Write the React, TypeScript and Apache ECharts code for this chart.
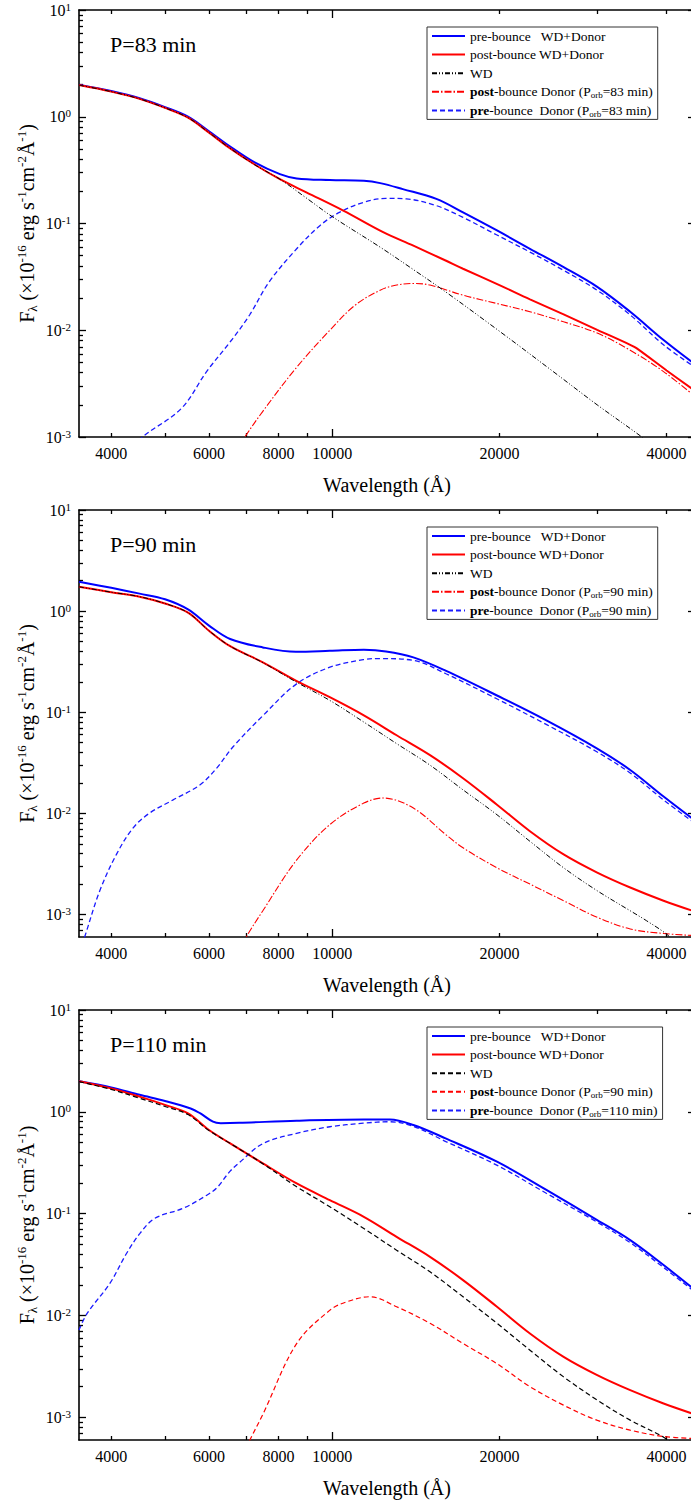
import React, { useEffect, useRef } from 'react';
import * as echarts from 'echarts';

const FONT = '"Liberation Serif", "Times New Roman", Times, serif';

// ---- tick positions / labels ----
const xMinorTicks = [4000, 5000, 6000, 7000, 8000, 9000, 20000, 30000, 40000];
const xMajorTicks = [10000];
const xTickLabels = [4000, 6000, 8000, 10000, 20000, 40000];
const yMajorTicks = [0.001, 0.01, 0.1, 1, 10];
const yMinorTicks = [
  0.0007, 0.0008, 0.0009,
  0.002, 0.003, 0.004, 0.005, 0.006, 0.007, 0.008, 0.009,
  0.02, 0.03, 0.04, 0.05, 0.06, 0.07, 0.08, 0.09,
  0.2, 0.3, 0.4, 0.5, 0.6, 0.7, 0.8, 0.9,
  2, 3, 4, 5, 6, 7, 8, 9,
];

const panelTitles = ['P=83 min', 'P=90 min', 'P=110 min'];
const preDonorPeriods = ['83', '90', '110'];
const postDonorPeriods = ['83', '90', '90'];

// ---- Panel 1 (P = 83 min) : [wavelength Å, F_lambda] ----
const p1PreTotal = [[3500,2.0],[4000,1.74],[4500,1.49],[5000,1.23],[5500,1.0],[6000,0.73],[6500,0.54],[7250,0.373],[8050,0.29],[8630,0.264],[9900,0.255],[11400,0.251],[12200,0.239],[13400,0.21],[15400,0.17],[17200,0.127],[19800,0.086],[22700,0.058],[26100,0.039],[30000,0.0255],[34400,0.0149],[39500,0.0081],[45000,0.0048]];
const p1PostTotal = [[3500,1.98],[4000,1.72],[4500,1.47],[5000,1.21],[5500,0.98],[6000,0.71],[6500,0.52],[7250,0.357],[8050,0.26],[9000,0.195],[10470,0.132],[12350,0.083],[14000,0.062],[16000,0.045],[17200,0.0377],[20000,0.0265],[22700,0.0195],[26100,0.0141],[30000,0.0101],[34400,0.0073],[35300,0.0068],[40000,0.0042],[45000,0.0027]];
const p1Wd = [[3500,1.98],[4000,1.72],[4500,1.47],[5000,1.21],[5500,0.98],[6000,0.71],[6500,0.52],[7250,0.355],[8050,0.26],[9000,0.172],[10000,0.116],[12200,0.060],[14000,0.037],[16000,0.0229],[20000,0.0098],[25000,0.0041],[30000,0.0020],[36100,0.001],[38000,0.0008]];
const p1PostDonor = [[6800,0.0008],[6963,0.001],[7500,0.00174],[8600,0.0044],[9900,0.0100],[11000,0.0172],[12200,0.0237],[13000,0.0264],[14000,0.0274],[15000,0.0265],[17200,0.0213],[19800,0.0178],[22700,0.0149],[26100,0.012],[30000,0.0094],[34400,0.0065],[39500,0.0041],[45000,0.0024]];
const p1PreDonor = [[4400,0.0008],[4553,0.001],[5350,0.00185],[5940,0.0041],[6590,0.0081],[7100,0.0139],[7700,0.0284],[8630,0.058],[9500,0.0955],[10300,0.127],[11400,0.158],[12500,0.172],[13600,0.170],[15400,0.147],[17200,0.114],[19800,0.078],[22700,0.054],[26100,0.0364],[30000,0.0237],[34400,0.0139],[39500,0.0073],[45000,0.0045]];

// ---- Panel 2 (P = 90 min) ----
const p2PreTotal = [[3500,1.95],[4000,1.70],[4500,1.49],[5000,1.31],[5500,1.04],[6000,0.72],[6550,0.53],[7500,0.438],[8600,0.397],[9900,0.405],[11400,0.415],[12500,0.40],[14000,0.349],[16000,0.258],[19800,0.1466],[24300,0.0832],[30000,0.0438],[34400,0.0269],[39500,0.0147],[45000,0.0085]];
const p2PostTotal = [[3500,1.74],[4000,1.54],[4500,1.39],[5000,1.19],[5500,0.966],[6000,0.64],[6550,0.45],[7500,0.312],[8600,0.206],[9900,0.141],[11400,0.0933],[13060,0.0593],[15000,0.0377],[17200,0.0223],[19800,0.0122],[22700,0.00667],[26100,0.00393],[30000,0.0026],[34400,0.00185],[39500,0.00137],[45000,0.00107]];
const p2Wd = [[3500,1.74],[4000,1.54],[4500,1.39],[5000,1.19],[5500,0.966],[6000,0.64],[6550,0.45],[7500,0.31],[8600,0.2],[9900,0.131],[11400,0.080],[13060,0.049],[15000,0.030],[17200,0.0171],[19800,0.0097],[22700,0.0053],[26100,0.0029],[30000,0.00172],[34400,0.00109],[36800,0.00087],[40000,0.00064],[41500,0.00052]];
const p2PostDonor = [[6900,0.0005],[7000,0.0006],[7500,0.00109],[8600,0.00338],[9900,0.00775],[11400,0.01265],[12350,0.0142],[14000,0.0113],[16000,0.0062],[17200,0.00457],[19800,0.0029],[22700,0.0020],[26100,0.00137],[30000,0.00094],[34400,0.00072],[39500,0.00065],[45000,0.00062]];
const p2PreDonor = [[3540,0.0005],[3583,0.0006],[3815,0.00172],[4088,0.00394],[4381,0.0072],[4693,0.0101],[5170,0.0136],[5776,0.0191],[6189,0.0279],[6630,0.0456],[7512,0.0933],[8627,0.191],[9905,0.279],[11375,0.331],[12190,0.34],[13985,0.326],[16060,0.239],[19780,0.136],[24330,0.0755],[29950,0.0407],[34390,0.0251],[39490,0.0136],[45000,0.0080]];

// ---- Panel 3 (P = 110 min) ----
const p3PreTotal = [[3500,2.0],[4000,1.74],[4500,1.47],[5000,1.28],[5560,1.08],[5780,0.97],[6100,0.80],[6300,0.775],[6800,0.78],[8630,0.818],[11400,0.84],[12700,0.84],[14000,0.742],[16000,0.549],[19800,0.324],[24300,0.171],[30000,0.0865],[34400,0.055],[39500,0.0313],[45000,0.0178]];
const p3PostTotal = [[3500,2.0],[4000,1.70],[4500,1.41],[5000,1.17],[5500,0.966],[6000,0.663],[6550,0.49],[7500,0.312],[8630,0.198],[9900,0.136],[11400,0.0933],[13060,0.0593],[15000,0.0377],[17200,0.0223],[19800,0.0122],[22700,0.00667],[26100,0.00393],[30000,0.0026],[34400,0.00185],[39500,0.00137],[45000,0.00107]];
const p3Wd = [[3500,1.98],[4000,1.66],[4500,1.36],[5000,1.13],[5500,0.94],[6000,0.655],[6550,0.49],[7500,0.31],[8630,0.184],[9900,0.117],[11400,0.0716],[13060,0.0438],[15000,0.0269],[17200,0.0153],[19800,0.0084],[22700,0.00457],[26100,0.0025],[30000,0.00148],[34400,0.00094],[39500,0.00064],[41500,0.00052]];
const p3PostDonor = [[7000,0.0005],[7107,0.0006],[7512,0.00109],[8627,0.0053],[9905,0.0113],[10600,0.0136],[11690,0.0153],[13060,0.0122],[15000,0.0084],[17220,0.0053],[19780,0.00338],[22710,0.0020],[26080,0.00132],[29950,0.00094],[34390,0.00075],[39490,0.00065],[45000,0.00062]];
const p3PreDonor = [[3500,0.0072],[3620,0.0105],[3978,0.0207],[4262,0.0407],[4506,0.064],[4790,0.090],[5390,0.113],[5945,0.152],[6200,0.18],[6543,0.26],[6817,0.32],[7512,0.49],[8627,0.615],[9905,0.714],[11375,0.774],[12700,0.80],[14000,0.72],[16060,0.508],[19780,0.30],[24330,0.158],[29950,0.083],[34390,0.052],[39490,0.0297],[45000,0.0170]];

const DASH_DOT_DOT = [5, 2, 1, 2, 1, 2];
const DASH_DOT = [7, 2, 1.5, 2];
const DASH = [5, 3];

const panels = [
  { title: panelTitles[0], yMin: 0.001, gridHeight: 429, pre: preDonorPeriods[0], post: postDonorPeriods[0],
    wdDash: DASH_DOT_DOT, postDash: DASH_DOT, wdWidth: 1, postWidth: 1.1,
    preTotal: p1PreTotal, postTotal: p1PostTotal, wd: p1Wd, postDonor: p1PostDonor, preDonor: p1PreDonor },
  { title: panelTitles[1], yMin: 0.0006, gridHeight: 430, pre: preDonorPeriods[1], post: postDonorPeriods[1],
    wdDash: DASH_DOT_DOT, postDash: DASH_DOT, wdWidth: 1, postWidth: 1.1,
    preTotal: p2PreTotal, postTotal: p2PostTotal, wd: p2Wd, postDonor: p2PostDonor, preDonor: p2PreDonor },
  { title: panelTitles[2], yMin: 0.0006, gridHeight: 430, pre: preDonorPeriods[2], post: postDonorPeriods[2],
    wdDash: DASH, postDash: DASH, wdWidth: 1.2, postWidth: 1.2,
    preTotal: p3PreTotal, postTotal: p3PostTotal, wd: p3Wd, postDonor: p3PostDonor, preDonor: p3PreDonor },
];

function buildOption(p: any) {
  const N_PRE_TOT = 'pre-bounce WD+Donor';
  const N_POST_TOT = 'post-bounce WD+Donor';
  const N_WD = 'WD';
  const N_POST_DON = 'post-bounce Donor (Porb=' + p.post + ' min)';
  const N_PRE_DON = 'pre-bounce Donor (Porb=' + p.pre + ' min)';
  const display: Record<string, string> = {
    [N_PRE_TOT]: 'pre-bounce\u00a0\u00a0\u00a0WD+Donor',
    [N_POST_TOT]: 'post-bounce WD+Donor',
    [N_WD]: 'WD',
    [N_POST_DON]: '{b|post}-bounce Donor (P{s|orb}=' + p.post + ' min)',
    [N_PRE_DON]: '{b|pre}-bounce\u00a0\u00a0Donor (P{s|orb}=' + p.pre + ' min)',
  };

  const line = (name: string, data: any, color: string, width: number, type: any, z: number) => ({
    type: 'line', name, data, symbol: 'none', showSymbol: false, smooth: 0.35,
    clip: true, z, xAxisIndex: 0, yAxisIndex: 0,
    lineStyle: { color, width, type }, itemStyle: { color },
  });

  const xBase = { type: 'log', logBase: 10, min: 3500, max: 45000, gridIndex: 0, splitLine: { show: false } };
  const yBase = { type: 'log', logBase: 10, min: p.yMin, max: 10, gridIndex: 0, splitLine: { show: false } };
  const axisLine = { show: true, lineStyle: { color: '#000', width: 1.6 } };
  const tickStyle = { color: '#000', width: 1.3 };

  return {
    animation: false,
    backgroundColor: '#fff',
    grid: { left: 79, right: 5, top: 10, height: p.gridHeight, containLabel: false },
    graphic: [
      { type: 'text', left: 110, top: 33, style: { text: p.title, font: '22px ' + FONT, fill: '#000' } },
    ],
    legend: {
      left: 427, top: 27, orient: 'vertical', align: 'left', selectedMode: false,
      itemWidth: 33, itemHeight: 14, itemGap: 2.6,
      padding: [1, 5, 1, 4],
      borderColor: '#333', borderWidth: 1, backgroundColor: '#fff',
      itemStyle: { opacity: 0 },
      data: [N_PRE_TOT, N_POST_TOT, N_WD, N_POST_DON, N_PRE_DON],
      formatter: (name: string) => display[name],
      textStyle: {
        fontFamily: FONT, fontSize: 13.5, color: '#000', lineHeight: 16,
        rich: {
          b: { fontFamily: FONT, fontSize: 13.5, fontWeight: 'bold', color: '#000', lineHeight: 16 },
          s: { fontFamily: FONT, fontSize: 9, color: '#000', lineHeight: 9, verticalAlign: 'bottom' },
        },
      },
    },
    xAxis: [
      { ...xBase, position: 'bottom', axisLine,
        axisTick: { show: true, inside: true, length: 4, customValues: xMinorTicks, lineStyle: tickStyle },
        axisLabel: { show: true, customValues: xTickLabels, margin: 8, fontFamily: FONT, fontSize: 16, color: '#000',
          formatter: (v: number) => String(Math.round(v)) },
        name: 'Wavelength (\u00c5)', nameLocation: 'middle', nameGap: 38,
        nameTextStyle: { fontFamily: FONT, fontSize: 20, color: '#000' } },
      { ...xBase, position: 'bottom', axisLine: { show: false },
        axisTick: { show: true, inside: true, length: 8, customValues: xMajorTicks, lineStyle: tickStyle },
        axisLabel: { show: false } },
      { ...xBase, position: 'top', axisLine,
        axisTick: { show: true, inside: true, length: 4, customValues: xMinorTicks, lineStyle: tickStyle },
        axisLabel: { show: false } },
      { ...xBase, position: 'top', axisLine: { show: false },
        axisTick: { show: true, inside: true, length: 8, customValues: xMajorTicks, lineStyle: tickStyle },
        axisLabel: { show: false } },
    ],
    yAxis: [
      { ...yBase, position: 'left', axisLine,
        axisTick: { show: true, inside: true, length: 4, customValues: yMinorTicks, lineStyle: tickStyle },
        axisLabel: { show: true, customValues: yMajorTicks, margin: 8,
          formatter: (v: number) => '{b|10}{s|' + Math.round(Math.log10(v)) + '}',
          rich: {
            b: { fontFamily: FONT, fontSize: 16, color: '#000', lineHeight: 18 },
            s: { fontFamily: FONT, fontSize: 11, color: '#000', lineHeight: 11, verticalAlign: 'top' },
          } },
        name: '{n|F}{sub|\u03bb}{n| (\u00d710}{sup|-16}{n| erg s}{sup|-1}{n|cm}{sup|-2}{n|\u00c5}{sup|-1}{n|)}',
        nameLocation: 'middle', nameGap: 40, nameMoveOverlap: false,
        nameTextStyle: {
          fontFamily: FONT, fontSize: 20, color: '#000',
          rich: {
            n: { fontFamily: FONT, fontSize: 20, color: '#000', lineHeight: 24 },
            sup: { fontFamily: FONT, fontSize: 13, color: '#000', lineHeight: 13, verticalAlign: 'top' },
            sub: { fontFamily: FONT, fontSize: 13, color: '#000', lineHeight: 13, verticalAlign: 'bottom' },
          },
        } },
      { ...yBase, position: 'left', axisLine: { show: false },
        axisTick: { show: true, inside: true, length: 7, customValues: yMajorTicks, lineStyle: tickStyle },
        axisLabel: { show: false } },
      { ...yBase, position: 'right', axisLine,
        axisTick: { show: true, inside: true, length: 7, customValues: yMajorTicks, lineStyle: tickStyle },
        axisLabel: { show: false } },
    ],
    series: [
      line(N_PRE_DON, p.preDonor, '#1a1aff', 1.3, DASH, 2),
      line(N_POST_DON, p.postDonor, '#ff0000', p.postWidth, p.postDash, 3),
      line(N_PRE_TOT, p.preTotal, '#0000ff', 2, 'solid', 4),
      line(N_POST_TOT, p.postTotal, '#ff0000', 2, 'solid', 5),
      line(N_WD, p.wd, '#000000', p.wdWidth, p.wdDash, 6),
    ],
  };
}

function Panel({ cfg, top, height }: { cfg: any; top: number; height: number }) {
  const ref = useRef<HTMLDivElement>(null);
  useEffect(() => {
    if (!ref.current) return;
    const chart = echarts.init(ref.current, null, { renderer: 'svg' });
    chart.setOption(buildOption(cfg) as any);
    return () => chart.dispose();
  }, [cfg]);
  return <div ref={ref} style={{ position: 'absolute', left: 0, top, width: 700, height }} />;
}

export default function App() {
  return (
    <div style={{ position: 'absolute', left: 0, top: 0, width: 691, height: 1503, overflow: 'hidden', background: '#fff' }}>
      <Panel cfg={panels[0]} top={0} height={500} />
      <Panel cfg={panels[1]} top={500} height={500} />
      <Panel cfg={panels[2]} top={1000} height={503} />
    </div>
  );
}
